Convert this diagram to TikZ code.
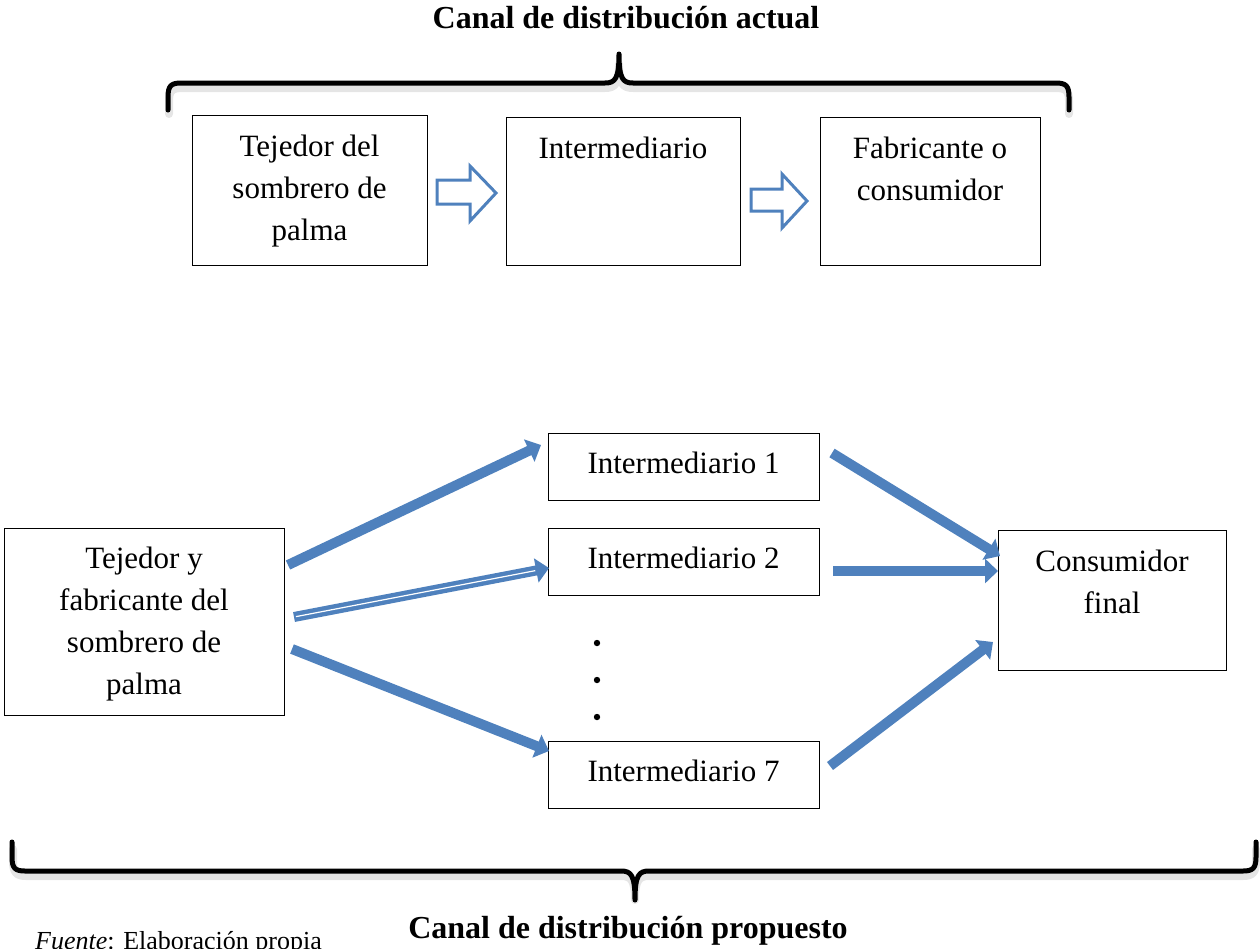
\documentclass[tikz,border=0pt]{standalone}
\usepackage{fontspec}
\setmainfont{Liberation Serif}
\usetikzlibrary{arrows.meta}
\definecolor{arrowblue}{HTML}{4F81BD}
\tikzset{
  box/.style={draw=black, line width=1pt, fill=white, inner sep=0pt, align=center,
    font=\fontsize{31}{42}\selectfont},
  lbl/.style={inner sep=0pt, align=center, font=\fontsize{31}{42}\selectfont},
  title/.style={inner sep=0pt, font=\fontsize{32}{38}\selectfont\bfseries},
  brace/.style={line width=5pt, line cap=round, line join=round, black},
  braceshadow/.style={line width=8pt, line cap=round, line join=round, black!20, opacity=0.5},
  flow/.style={line width=10pt, arrowblue, -{Triangle[length=13pt,width=24pt]}},
  blockarrow/.style={draw=arrowblue, line width=3pt, fill=white, line join=miter},
}
\begin{document}
\begin{tikzpicture}[x=1pt,y=-1pt]
\useasboundingbox (0,0) rectangle (1260,948);
\clip (0,0) rectangle (1260,948);

% titles
\node[title] (t1) at (626,18) {Canal de distribución actual};
\node[title] (t2) at (628,931) {Canal de distribución propuesto};
\node[inner sep=0pt, anchor=base west, font=\fontsize{26}{30}\selectfont] (src) at (35,949) {\textit{Fuente}: Elaboración propia};

% top brace
\draw[braceshadow, yshift=-4pt] (169,110) -- (169,97) .. controls (169,87) and (172,84) .. (182,84) -- (605,84)
  .. controls (615,84) and (619,80) .. (619,60)
  .. controls (619,80) and (623,84) .. (633,84) -- (1056,84)
  .. controls (1066,84) and (1069,87) .. (1069,97) -- (1069,110);
\draw[brace] (168,110) -- (168,97) .. controls (168,86) and (171,83) .. (181,83) -- (605,83)
  .. controls (615,83) and (619,79) .. (619,54)
  .. controls (619,79) and (623,83) .. (633,83) -- (1056,83)
  .. controls (1066,83) and (1069,86) .. (1069,97) -- (1069,110);

% bottom brace
\draw[braceshadow, yshift=-4pt] (13,845) -- (13,857) .. controls (13,868) and (16,872) .. (26,872) -- (621,872)
  .. controls (631,872) and (635,876) .. (635,896)
  .. controls (635,876) and (639,872) .. (649,872) -- (1243,872)
  .. controls (1253,872) and (1256,868) .. (1256,857) -- (1256,845);
\draw[brace] (12,842) -- (12,857) .. controls (12,868) and (15,871) .. (25,871) -- (621,871)
  .. controls (631,871) and (635,875) .. (635,900)
  .. controls (635,875) and (639,871) .. (649,871) -- (1243,871)
  .. controls (1253,871) and (1256,868) .. (1256,857) -- (1256,842);

% top boxes
\node[box, minimum width=235pt, minimum height=150pt] (b1) at (309.5,190) {};
\node[box, minimum width=234pt, minimum height=148pt] (b2) at (623,191) {};
\node[box, minimum width=220pt, minimum height=148pt] (b3) at (930,191) {};
\node[lbl, anchor=north] (b1t) at (309.5,135) {Tejedor del\\sombrero de\\palma};
\node[lbl, anchor=north] (b2t) at (623,137) {Intermediario};
\node[lbl, anchor=north] (b3t) at (930,137) {Fabricante o\\consumidor};

% block arrows
\draw[blockarrow] (437,180) -- (470,180) -- (470,166) -- (496,193) -- (470,221) -- (470,204) -- (437,204) -- cycle;
\draw[blockarrow] (751,189) -- (782,189) -- (782,174) -- (807,201) -- (782,228) -- (782,211) -- (751,211) -- cycle;

% bottom boxes
\node[box, minimum width=280pt, minimum height=187pt] (src0) at (144,621.5) {};
\node[lbl] (src0t) at (144,624) {Tejedor y\\fabricante del\\sombrero de\\palma};
\node[box, minimum width=271pt, minimum height=67pt] (i1) at (683.5,466.5) {};
\node[box, minimum width=271pt, minimum height=67pt] (i2) at (683.5,561.5) {};
\node[box, minimum width=271pt, minimum height=67pt] (i7) at (683.5,774.5) {};
\node[lbl] (i1t) at (683.5,462.5) {Intermediario 1};
\node[lbl] (i2t) at (683.5,557.5) {Intermediario 2};
\node[lbl] (i7t) at (683.5,770.5) {Intermediario 7};
\node[box, minimum width=228pt, minimum height=140pt] (cf) at (1112,600) {};
\node[lbl, anchor=north] (cft) at (1112,550) {Consumidor\\final};

% dots
\fill (597,643) circle (3.2pt);
\fill (597,680) circle (3.2pt);
\fill (597,717) circle (3.2pt);

% flow arrows
\coordinate (a1s) at (288,565); \coordinate (a1e) at (541,445);
\coordinate (a2s) at (294,617); \coordinate (a2e) at (549,568);
\coordinate (a3s) at (292,649); \coordinate (a3e) at (549,751);
\coordinate (a4s) at (832,453); \coordinate (a4e) at (1000,556);
\coordinate (a5s) at (833,571); \coordinate (a5e) at (998,571);
\coordinate (a6s) at (830,766); \coordinate (a6e) at (993,642);
\draw[flow] (a1s) -- (a1e);
\draw[flow] (a2s) -- (a2e);
\draw[white, line width=1.2pt, shorten >=14pt, shorten <=2pt] (a2s) -- (a2e);
\draw[flow] (a3s) -- (a3e);
\draw[flow] (a4s) -- (a4e);
\draw[flow] (a5s) -- (a5e);
\draw[flow] (a6s) -- (a6e);
\end{tikzpicture}
\end{document}
